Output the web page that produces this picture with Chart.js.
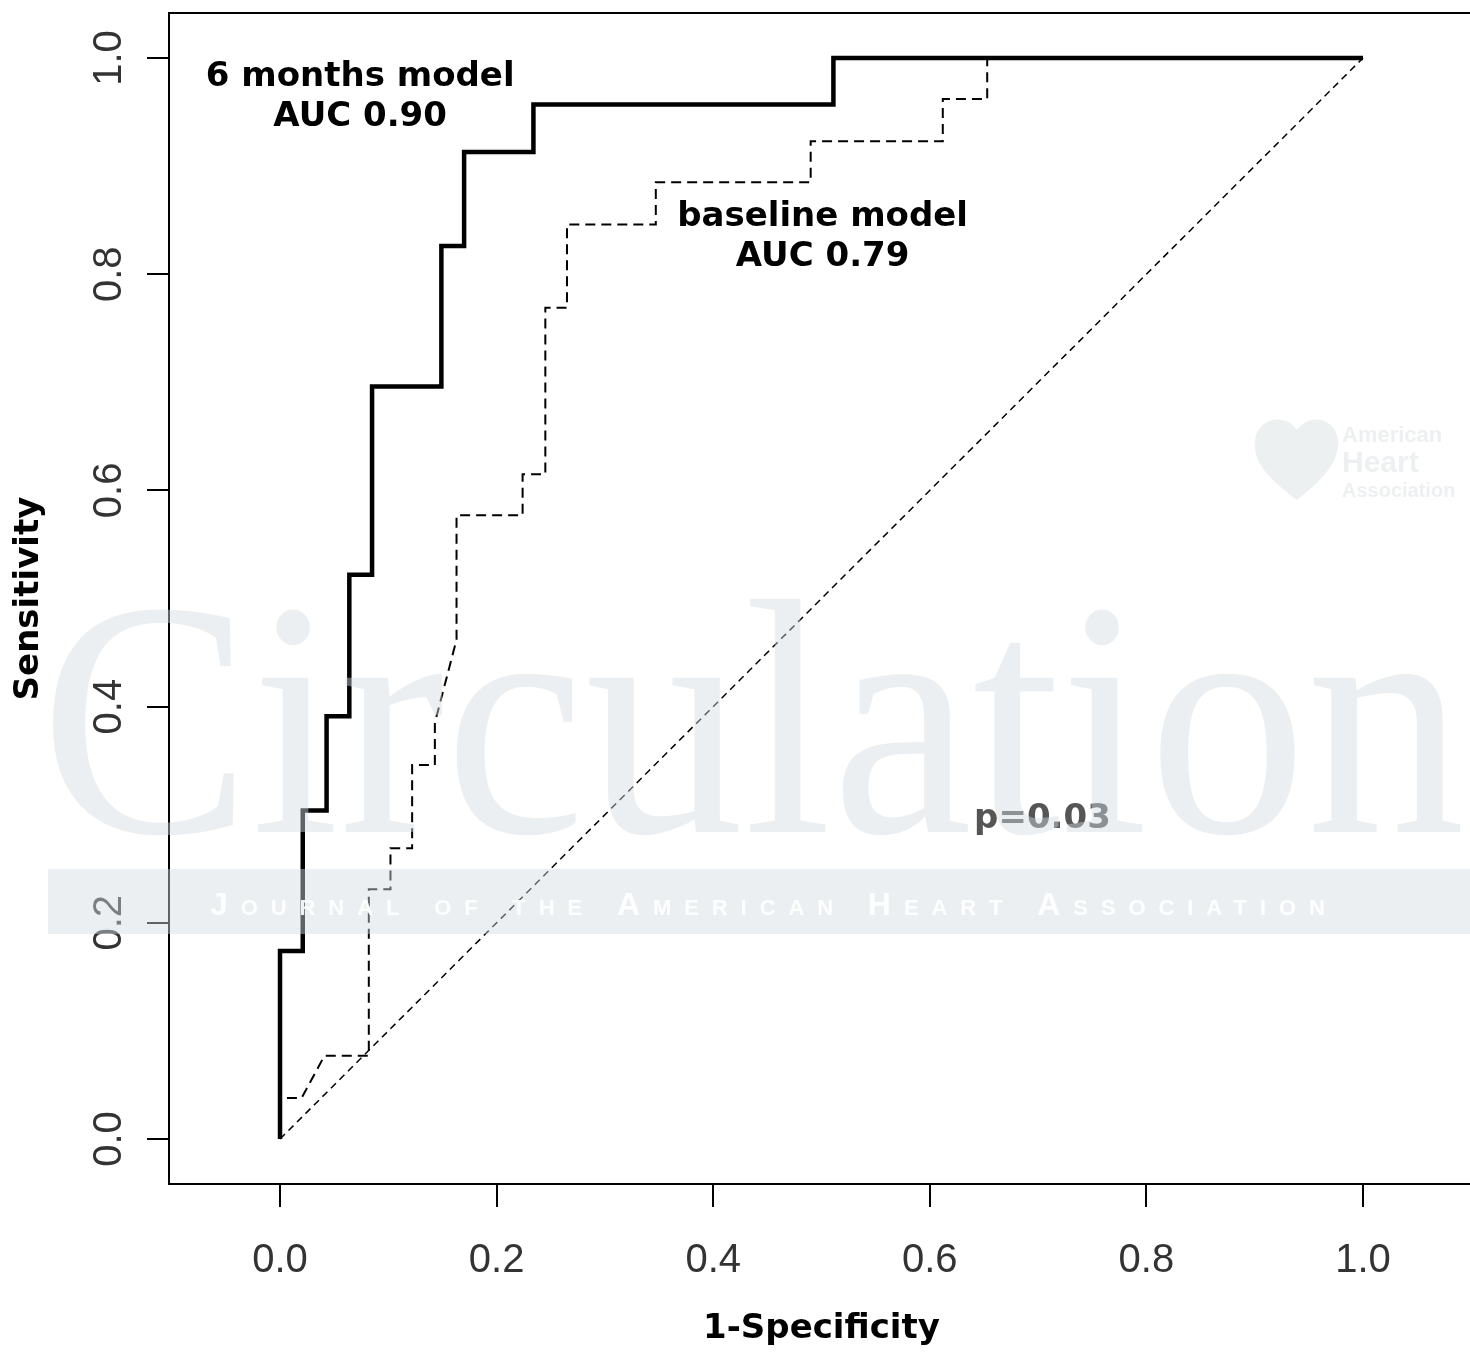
<!DOCTYPE html>
<html>
<head>
<meta charset="utf-8">
<script src="https://cdn.jsdelivr.net/npm/chart.js@4.4.1/dist/chart.umd.min.js"></script>
<style>
  html, body { margin: 0; padding: 0; background: #fff; overflow: hidden; }
  canvas { display: block; }
</style>
</head>
<body>
<canvas id="rocChart" width="1476" height="1355"></canvas>
<script>
// 6 months model ROC curve (1-specificity, sensitivity)
var sixMonthFpr  = [0, 0, 0.021, 0.021, 0.043, 0.043, 0.064, 0.064, 0.085, 0.085, 0.149, 0.149, 0.170, 0.170, 0.234, 0.234, 0.511, 0.511, 1.0];
var sixMonthSens = [0, 0.174, 0.174, 0.304, 0.304, 0.391, 0.391, 0.522, 0.522, 0.696, 0.696, 0.826, 0.826, 0.913, 0.913, 0.957, 0.957, 1.0, 1.0];

// baseline model ROC curve
var baseFpr  = [0, 0, 0.020, 0.041, 0.082, 0.082, 0.102, 0.102, 0.122, 0.122, 0.143, 0.143, 0.163, 0.163, 0.224, 0.224, 0.245, 0.245, 0.265, 0.265, 0.347, 0.347, 0.490, 0.490, 0.612, 0.612, 0.653, 0.653, 1.0];
var baseSens = [0, 0.038, 0.038, 0.077, 0.077, 0.231, 0.231, 0.269, 0.269, 0.346, 0.346, 0.385, 0.462, 0.577, 0.577, 0.615, 0.615, 0.769, 0.769, 0.846, 0.846, 0.885, 0.885, 0.923, 0.923, 0.962, 0.962, 1.0, 1.0];

// chance diagonal
var chanceFpr  = [0, 1];
var chanceSens = [0, 1];

var xTicks = [0, 0.2, 0.4, 0.6, 0.8, 1.0];
var xTickLabels = ["0.0", "0.2", "0.4", "0.6", "0.8", "1.0"];
var yTicks = [0, 0.2, 0.4, 0.6, 0.8, 1.0];
var yTickLabels = ["0.0", "0.2", "0.4", "0.6", "0.8", "1.0"];

var sixMonthText = ["6 months model", "AUC 0.90"];
var baseText = ["baseline model", "AUC 0.79"];
var pText = "p=0.03";

function toPoints(xs, ys) {
  return xs.map(function (x, i) { return { x: x, y: ys[i] }; });
}

// box, tick labels, text labels and the journal watermark
var rPlot = {
  id: 'rPlot',
  afterDatasetsDraw: function (chart) {
    var ctx = chart.ctx, a = chart.chartArea;
    var xs = chart.scales.x, ys = chart.scales.y;
    ctx.save();

    // top and right side of the box
    ctx.strokeStyle = '#000';
    ctx.lineWidth = 2;
    ctx.beginPath();
    ctx.moveTo(a.left, a.top);
    ctx.lineTo(a.right, a.top);
    ctx.lineTo(a.right, a.bottom);
    ctx.stroke();

    // tick labels
    ctx.fillStyle = '#333';
    ctx.font = '40px "Liberation Sans", Arial, sans-serif';
    ctx.textAlign = 'center';
    ctx.textBaseline = 'alphabetic';
    xTicks.forEach(function (v, i) {
      ctx.fillText(xTickLabels[i], xs.getPixelForValue(v), a.bottom + 88);
    });
    yTicks.forEach(function (v, i) {
      ctx.save();
      ctx.translate(a.left - 48, ys.getPixelForValue(v));
      ctx.rotate(-Math.PI / 2);
      ctx.fillText(yTickLabels[i], 0, 0);
      ctx.restore();
    });

    // curve labels
    ctx.font = 'bold 34px "DejaVu Sans", sans-serif';
    ctx.fillStyle = '#000';
    function block(lines, x, y) {
      var px = xs.getPixelForValue(x), py = ys.getPixelForValue(y);
      lines.forEach(function (t, i) { ctx.fillText(t, px, py + i * 40); });
    }
    block(sixMonthText, 0.074, 0.974);
    block(baseText, 0.501, 0.845);
    ctx.fillStyle = '#555';
    ctx.fillText(pText, xs.getPixelForValue(0.704), ys.getPixelForValue(0.288));

    // watermark
    ctx.fillStyle = 'rgba(212,219,223,0.45)';
    ctx.textAlign = 'left';
    ctx.font = '336px "Liberation Serif", "Times New Roman", serif';
    var word = 'Circulation';
    var sx = 1425 / ctx.measureText(word).width;
    ctx.save();
    ctx.translate(40, 832);
    ctx.scale(sx, 1);
    ctx.fillText(word, 0, 0);
    ctx.restore();
    ctx.fillRect(48, 869, 1430, 65);
    ctx.fillStyle = 'rgba(255,255,255,0.9)';
    ctx.font = 'small-caps bold 32px "Liberation Sans", Arial, sans-serif';
    var band = 'Journal of the American Heart Association';
    var w0 = ctx.measureText(band).width;
    ctx.letterSpacing = ((1325 - 210 - w0) / (band.length - 1)).toFixed(2) + 'px';
    ctx.fillText(band, 210, 915);
    ctx.letterSpacing = '0px';
    ctx.fillStyle = 'rgba(215,221,224,0.45)';
    ctx.font = 'bold 22px "Liberation Sans", Arial, sans-serif';
    ctx.fillText('American', 1342, 442);
    ctx.font = 'bold 30px "Liberation Sans", Arial, sans-serif';
    ctx.fillText('Heart', 1342, 472);
    ctx.font = 'bold 20px "Liberation Sans", Arial, sans-serif';
    ctx.fillText('Association', 1342, 497);
    ctx.beginPath();
    ctx.moveTo(1297, 500);
    ctx.bezierCurveTo(1270, 480, 1252, 462, 1255, 440);
    ctx.bezierCurveTo(1258, 418, 1285, 412, 1297, 430);
    ctx.bezierCurveTo(1309, 412, 1336, 418, 1338, 440);
    ctx.bezierCurveTo(1340, 462, 1322, 480, 1297, 500);
    ctx.fill();

    ctx.restore();
  }
};

new Chart('rocChart', {
  type: 'scatter',
  data: {
    datasets: [{
      label: '6 months model',
      data: toPoints(sixMonthFpr, sixMonthSens),
      showLine: true,
      borderColor: '#000',
      borderWidth: 4.5,
      borderJoinStyle: 'miter',
      pointRadius: 0,
      order: 0
    }, {
      label: 'baseline model',
      data: toPoints(baseFpr, baseSens),
      showLine: true,
      borderColor: '#000',
      borderWidth: 2,
      borderDash: [10, 6],
      pointRadius: 0,
      order: 1
    }, {
      label: 'chance',
      data: toPoints(chanceFpr, chanceSens),
      showLine: true,
      borderColor: '#000',
      borderWidth: 1.5,
      borderDash: [7, 5],
      pointRadius: 0,
      order: 2
    }]
  },
  options: {
    responsive: false,
    animation: false,
    layout: { padding: { top: 13, right: 2, left: 0, bottom: 0 } },
    plugins: { legend: { display: false }, tooltip: { enabled: false } },
    scales: {
      x: {
        type: 'linear',
        min: -0.1025,
        max: 1.1025,
        afterBuildTicks: function (s) { s.ticks = xTicks.map(function (v) { return { value: v }; }); },
        afterFit: function (s) { s.height = 171; },
        ticks: { display: false },
        grid: { drawOnChartArea: false, drawTicks: true, tickLength: 23, color: '#000', lineWidth: 2 },
        border: { display: true, color: '#000', width: 2 },
        title: {
          display: true,
          text: '1-Specificity',
          color: '#000',
          font: { family: 'DejaVu Sans', weight: 'bold', size: 34 },
          padding: { top: 0, bottom: 5 }
        }
      },
      y: {
        type: 'linear',
        min: -0.0416,
        max: 1.0416,
        afterBuildTicks: function (s) { s.ticks = yTicks.map(function (v) { return { value: v }; }); },
        afterFit: function (s) { s.width = 169; },
        ticks: { display: false },
        grid: { drawOnChartArea: false, drawTicks: true, tickLength: 22, color: '#000', lineWidth: 2 },
        border: { display: true, color: '#000', width: 2 },
        title: {
          display: true,
          text: 'Sensitivity',
          color: '#000',
          font: { family: 'DejaVu Sans', weight: 'bold', size: 34 },
          padding: { top: 9, bottom: 0 }
        }
      }
    }
  },
  plugins: [rPlot]
});
</script>
</body>
</html>
